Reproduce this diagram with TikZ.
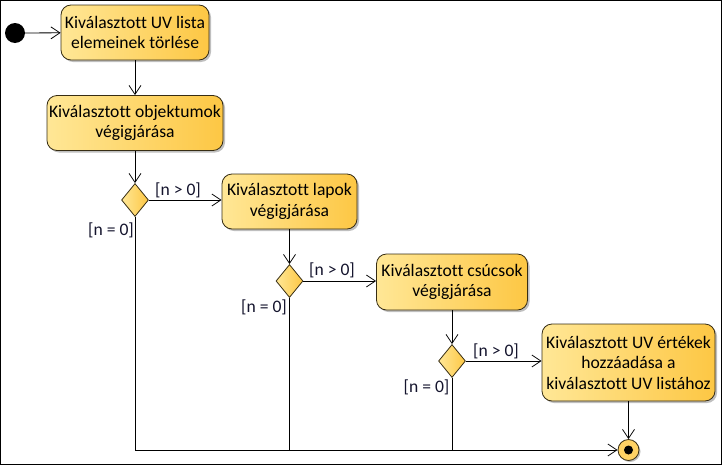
\documentclass[tikz,border=0pt]{standalone}
\usepackage{fontspec}
\setmainfont{Carlito}[Ligatures=NoCommon]
\usetikzlibrary{shapes.geometric,arrows.meta,shadows}
\definecolor{boxL}{RGB}{255,231,150}
\definecolor{boxR}{RGB}{253,199,68}
\definecolor{edgec}{RGB}{55,45,20}
\definecolor{labc}{RGB}{20,20,45}
\definecolor{finc}{RGB}{255,210,100}
\begin{document}
\begin{tikzpicture}[x=1pt,y=-1pt, font=\fontsize{17.6}{20.5}\selectfont,
  act/.style={draw=edgec, line width=0.8pt, rounded corners=10pt, left color=boxL, right color=boxR,
    align=center, inner sep=0pt, text=black,
    drop shadow={shadow xshift=2pt,shadow yshift=-2pt,opacity=0.25,fill=black}},
  dec/.style={diamond, draw=edgec, line width=0.8pt, left color=boxL, right color=boxR,
    minimum width=27pt, minimum height=33pt, inner sep=0pt},
  flow/.style={draw=black, line width=0.8pt, -{Straight Barb[length=9pt,width=12pt]}},
  plain/.style={draw=black, line width=0.8pt},
  guard/.style={text=labc, inner sep=0pt}]
\useasboundingbox (0,0) rectangle (723,466);
\draw[line width=1pt] (0.5,0.5) rectangle (721.5,464.5);

\node[circle, fill=black, minimum size=20pt, inner sep=0pt] (start) at (15,33) {};
\node[act, minimum width=148pt, minimum height=55pt] (a1) at (135,32.5) {Kiválasztott UV lista\\elemeinek törlése};
\node[act, minimum width=176pt, minimum height=55pt] (a2) at (135,123) {Kiválasztott objektumok\\végigjárása};
\node[dec] (d1) at (135,200) {};
\node[act, minimum width=135pt, minimum height=55pt] (a3) at (289.5,201.5) {Kiválasztott lapok\\végigjárása};
\node[dec] (d2) at (289.5,281) {};
\node[act, minimum width=151pt, minimum height=56pt] (a4) at (452,282) {Kiválasztott csúcsok\\végigjárása};
\node[dec] (d3) at (452,361) {};
\node[act, minimum width=173pt, minimum height=77pt] (a5) at (628.5,362.5) {Kiválasztott UV értékek\\hozzáadása a\\kiválasztott UV listához};
\node[circle, draw=edgec, fill=finc, minimum size=21pt, inner sep=0pt, line width=0.8pt,
  drop shadow={shadow xshift=1.5pt,shadow yshift=-1.5pt,opacity=0.25,fill=black}] (end) at (628.5,450) {};
\fill[black] (end.center) circle (4.5pt);

\draw[flow] (start) -- (a1);
\draw[flow] (a1) -- (a2);
\draw[flow] (a2) -- (d1);
\draw[flow] (d1.east) -- (d1.east -| a3.west);
\draw[flow] (a3) -- (d2);
\draw[flow] (d2.east) -- (d2.east -| a4.west);
\draw[flow] (a4) -- (d3);
\draw[flow] (d3.east) -- (d3.east -| a5.west);
\draw[flow] (a5) -- (end);
\draw[flow] (d1.south) |- (end.west);
\draw[plain] (d2.south) -- (d2.south |- end);
\draw[plain] (d3.south) -- (d3.south |- end);

\node[guard] (g1) at (178,190) {[n > 0]};
\node[guard] (g2) at (111,230) {[n = 0]};
\node[guard] (g3) at (332,270) {[n > 0]};
\node[guard] (g4) at (264,307) {[n = 0]};
\node[guard] (g5) at (496,351) {[n > 0]};
\node[guard] (g6) at (426.5,387) {[n = 0]};
\end{tikzpicture}
\end{document}
